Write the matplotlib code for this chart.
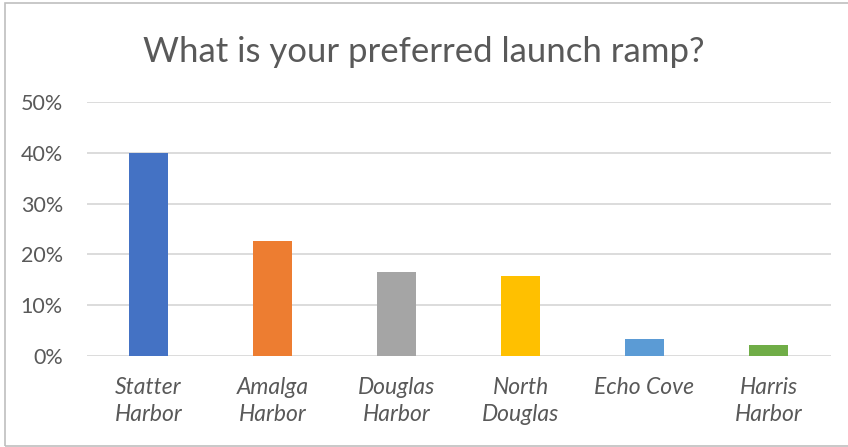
import matplotlib.pyplot as plt
import matplotlib.patches as patches
from matplotlib.ticker import PercentFormatter

W, H = 848, 447

title = 'What is your preferred launch ramp?'
ramps = ['Statter\nHarbor', 'Amalga\nHarbor', 'Douglas\nHarbor', 'North\nDouglas', 'Echo Cove', 'Harris\nHarbor']
shares = [0.400, 0.226, 0.165, 0.157, 0.033, 0.021]
colors = ['#4472C4', '#ED7D31', '#A5A5A5', '#FFC000', '#5B9BD5', '#70AD47']
yticks = [0, 0.1, 0.2, 0.3, 0.4, 0.5]

plt.rcParams['font.family'] = ['Lato', 'DejaVu Sans']

fig = plt.figure(figsize=(W / 100, H / 100), dpi=100)

# chart border
fig.patches.append(patches.Rectangle((5 / W, 1 - 446 / H), 1.0, (446 - 3) / H,
                                     transform=fig.transFigure, fill=False,
                                     edgecolor='#BFBFBF', linewidth=1.2))

left, right = 86.5 / W, 830.5 / W
bottom, top = 1 - 355.7 / H, 1 - 102.3 / H
ax = fig.add_axes([left, bottom, right - left, top - bottom])

x = range(len(ramps))
ax.bar(x, shares, width=0.315, color=colors, zorder=3)

ax.set_xlim(-0.5, len(ramps) - 0.5)
ax.set_ylim(0, 0.5)
ax.set_yticks(yticks)
ax.yaxis.set_major_formatter(PercentFormatter(1.0, decimals=0))
ax.grid(axis='y', color='#D9D9D9', linewidth=1.3, zorder=0)
ax.set_axisbelow(True)
for s in ax.spines.values():
    s.set_visible(False)
ax.tick_params(axis='y', length=0, pad=17, labelsize=15.5, labelcolor='#595959')
ax.tick_params(axis='x', length=0, pad=15)
ax.set_xticks(list(x))
ax.set_xticklabels(ramps, fontsize=16.5, color='#595959', style='italic', linespacing=1.4)

fig.text(0.5, 1 - 62 / H, title, ha='center', va='baseline', fontsize=25, color='#595959')

fig.savefig('out.png', dpi=100)
